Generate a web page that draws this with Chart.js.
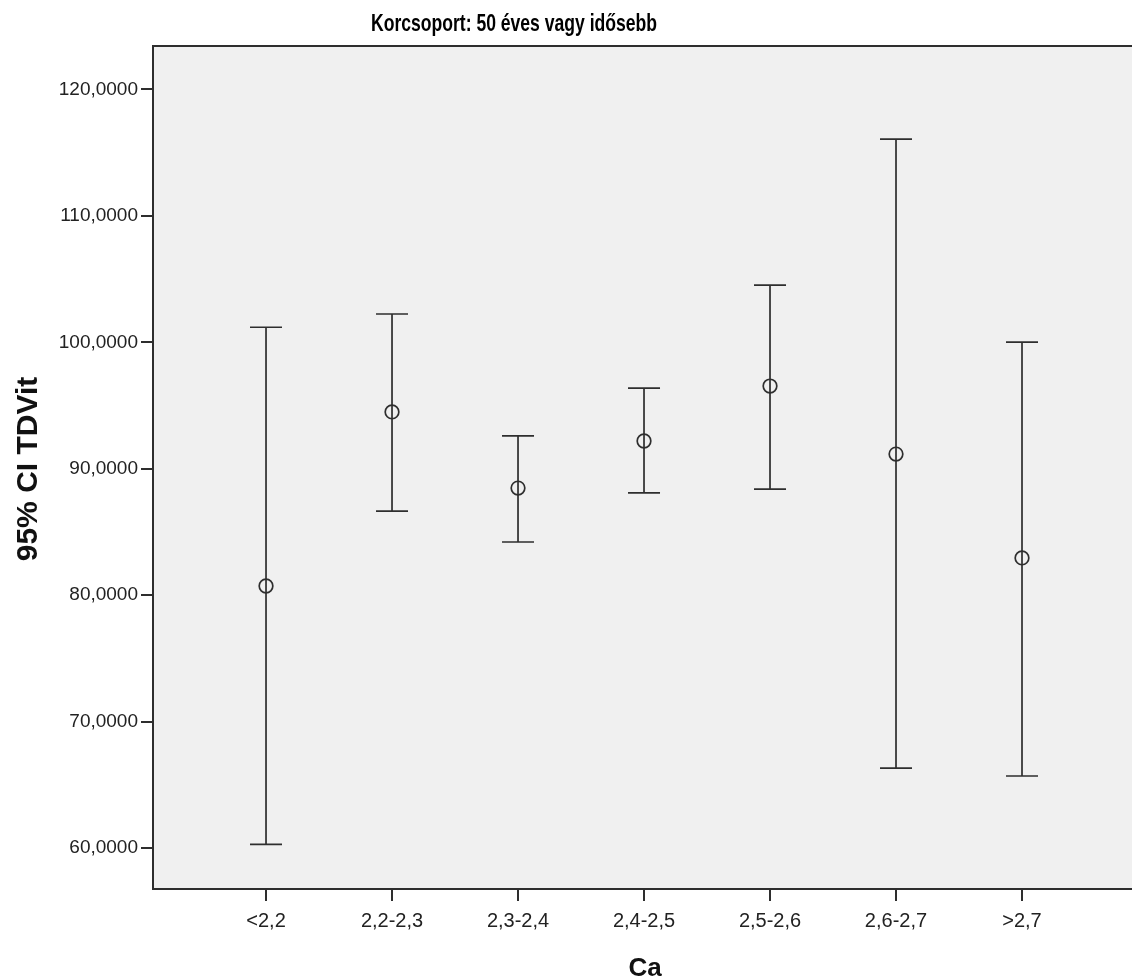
<!DOCTYPE html>
<html>
<head>
<meta charset="utf-8">
<script src="https://cdn.jsdelivr.net/npm/chart.js@4/dist/chart.umd.min.js"></script>
<style>
  html, body { margin: 0; padding: 0; background: #ffffff; }
  #wrap { width: 1132px; height: 980px; position: relative; }
  canvas { display: block; }
</style>
</head>
<body>
<div id="wrap"><canvas id="c" width="1132" height="980"></canvas></div>
<script>
// ---- data ----
const categories = ['<2,2', '2,2-2,3', '2,3-2,4', '2,4-2,5', '2,5-2,6', '2,6-2,7', '>2,7'];
const meanValues = [80.72, 94.49, 88.47, 92.19, 96.54, 91.16, 82.94];
const upperCI    = [101.19, 102.24, 92.59, 96.38, 104.53, 116.08, 100.02];
const lowerCI    = [60.28, 86.65, 84.20, 88.08, 88.39, 66.32, 65.69];
const yTickValues = [60, 70, 80, 90, 100, 110, 120];
const yTickLabels = ['60,0000', '70,0000', '80,0000', '90,0000', '100,0000', '110,0000', '120,0000'];
const chartTitle = 'Korcsoport: 50 éves vagy idősebb';
const xAxisTitle = 'Ca';
const yAxisTitle = '95% CI TDVit';

const FONT = "'Liberation Sans', Arial, Helvetica, sans-serif";
const INK = '#2e2e2e';

const bgPlugin = {
  id: 'plotBg',
  beforeDraw(chart) {
    const { ctx, chartArea: a } = chart;
    ctx.save();
    ctx.fillStyle = '#f0f0f0';
    ctx.fillRect(a.left, a.top, a.right - a.left, a.bottom - a.top);
    ctx.restore();
  },
  afterDraw(chart) {
    const { ctx, chartArea: a } = chart;
    ctx.save();
    // top frame line
    ctx.strokeStyle = INK;
    ctx.lineWidth = 2;
    ctx.beginPath();
    ctx.moveTo(a.left - 1, a.top);
    ctx.lineTo(a.right, a.top);
    ctx.stroke();
    // title (condensed bold)
    ctx.fillStyle = '#000';
    ctx.font = "bold 24px " + FONT;
    ctx.textAlign = 'center';
    ctx.textBaseline = 'alphabetic';
    ctx.save();
    ctx.translate(514, 31);
    ctx.scale(0.732, 1);
    ctx.fillText(chartTitle, 0, 0);
    ctx.restore();
    // x axis title
    ctx.font = "bold 26px " + FONT;
    ctx.fillStyle = '#111';
    ctx.fillText(xAxisTitle, 645, 976);
    // y axis title
    ctx.save();
    ctx.translate(37, 469);
    ctx.rotate(-Math.PI / 2);
    ctx.font = "bold 30px " + FONT;
    ctx.textAlign = 'center';
    ctx.fillText(yAxisTitle, 0, 0);
    ctx.restore();
    ctx.restore();
  }
};

const errorBarPlugin = {
  id: 'errorBars',
  beforeDatasetsDraw(chart) {
    const { ctx } = chart;
    const xs = chart.scales.x, ys = chart.scales.y;
    const cap = 16;
    ctx.save();
    ctx.strokeStyle = INK;
    ctx.lineWidth = 1.7;
    for (let i = 0; i < categories.length; i++) {
      const x = xs.getPixelForValue(i);
      const yt = ys.getPixelForValue(upperCI[i]);
      const yb = ys.getPixelForValue(lowerCI[i]);
      ctx.beginPath();
      ctx.moveTo(x, yt); ctx.lineTo(x, yb);
      ctx.moveTo(x - cap, yt); ctx.lineTo(x + cap, yt);
      ctx.moveTo(x - cap, yb); ctx.lineTo(x + cap, yb);
      ctx.stroke();
    }
    ctx.restore();
  }
};

new Chart(document.getElementById('c'), {
  type: 'scatter',
  data: {
    datasets: [{
      label: 'Mean',
      data: meanValues.map((v, i) => ({ x: i, y: v })),
      pointStyle: 'circle',
      pointRadius: 6.8,
      pointHoverRadius: 6.8,
      pointBorderWidth: 1.7,
      pointBorderColor: INK,
      pointBackgroundColor: 'rgba(0,0,0,0)',
      showLine: false
    }]
  },
  options: {
    responsive: false,
    animation: false,
    devicePixelRatio: 1,
    layout: { autoPadding: false, padding: { top: 46, left: 0, right: 0, bottom: 0 } },
    plugins: {
      legend: { display: false },
      tooltip: { enabled: false },
      title: { display: false }
    },
    scales: {
      x: {
        type: 'linear',
        min: -0.897,
        max: 6.873,
        afterBuildTicks(scale) { scale.ticks = categories.map((c, i) => ({ value: i })); },
        afterFit(scale) { scale.height = 91; scale.paddingLeft = 0; scale.paddingRight = 0; },
        ticks: {
          autoSkip: false,
          maxRotation: 0,
          minRotation: 0,
          padding: 8,
          color: '#222',
          font: { family: FONT, size: 20 },
          callback: (v) => categories[v]
        },
        grid: { drawOnChartArea: false, drawTicks: true, tickLength: 12, color: INK, lineWidth: 2 },
        border: { display: true, color: INK, width: 2 }
      },
      y: {
        type: 'linear',
        min: 56.75,
        max: 123.44,
        afterBuildTicks(scale) { scale.ticks = yTickValues.map(v => ({ value: v })); },
        afterFit(scale) { scale.width = 153; },
        ticks: {
          padding: 3,
          color: '#222',
          font: { family: FONT, size: 19 },
          callback: (v) => yTickLabels[yTickValues.indexOf(v)]
        },
        grid: { drawOnChartArea: false, drawTicks: true, tickLength: 12, color: INK, lineWidth: 2 },
        border: { display: true, color: INK, width: 2 }
      }
    }
  },
  plugins: [bgPlugin, errorBarPlugin]
});
</script>
</body>
</html>
